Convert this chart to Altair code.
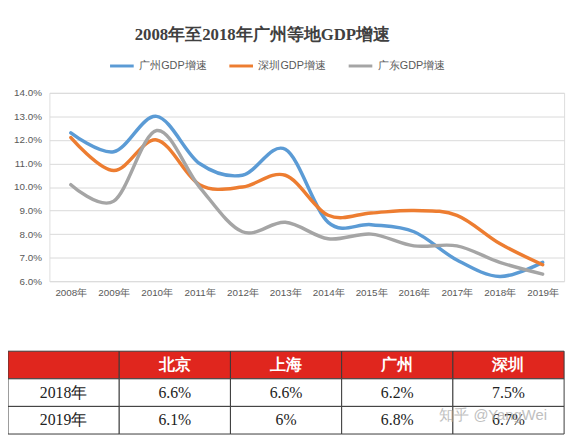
import altair as alt
import pandas as pd

# ---- data ----
years = ["2008年", "2009年", "2010年", "2011年", "2012年", "2013年",
         "2014年", "2015年", "2016年", "2017年", "2018年", "2019年"]
series_names = ["广州GDP增速", "深圳GDP增速", "广东GDP增速"]
guangzhou = [12.3, 11.5, 13.0, 11.0, 10.5, 11.6, 8.5, 8.4, 8.1, 6.9, 6.2, 6.8]
shenzhen = [12.1, 10.7, 12.0, 10.1, 10.0, 10.5, 8.8, 8.9, 9.0, 8.8, 7.6, 6.7]
guangdong = [10.1, 9.4, 12.4, 10.0, 8.1, 8.5, 7.8, 8.0, 7.5, 7.5, 6.8, 6.3]
series_colors = ["#5B9BD5", "#ED7D31", "#A5A5A5"]

table_header = ["", "北京", "上海", "广州", "深圳"]
row_labels = ["2018年", "2019年"]
vals_2018 = ["6.6%", "6.6%", "6.2%", "7.5%"]
vals_2019 = ["6.1%", "6%", "6.8%", "6.7%"]

title_text = "2008年至2018年广州等地GDP增速"
watermark = "知乎 @YangWei"

# ---- tables built from the lists ----
line_rows = []
for name, vals in zip(series_names, [guangzhou, shenzhen, guangdong]):
    for y, v in zip(years, vals):
        line_rows.append({"year": y, "series": name, "value": v})
line_df = pd.DataFrame(line_rows)

cells = []
for c, h in enumerate(table_header):
    cells.append({"col": c, "row": 0, "text": h, "kind": "header"})
for r, (lab, vals) in enumerate(zip(row_labels, [vals_2018, vals_2019])):
    cells.append({"col": 0, "row": r + 1, "text": lab, "kind": "body"})
    for c, v in enumerate(vals):
        cells.append({"col": c + 1, "row": r + 1, "text": v, "kind": "body"})
cell_df = pd.DataFrame(cells)

W, H = 522, 191

lines = alt.Chart(line_df).mark_line(
    interpolate="cardinal", strokeWidth=3.5, strokeCap="round"
).encode(
    x=alt.X("year:O", sort=years, title=None,
            scale=alt.Scale(type="point", padding=0.5),
            axis=alt.Axis(labelAngle=0, ticks=False, domain=False, grid=False,
                          labelFontSize=10, labelColor="#595959",
                          labelFont="Liberation Sans", labelPadding=7)),
    y=alt.Y("value:Q", title=None,
            scale=alt.Scale(domain=[6, 14], nice=False, zero=False),
            axis=alt.Axis(values=list(range(6, 15)), ticks=False, domain=False,
                          grid=True, gridColor="#d9d9d9", gridWidth=1,
                          labelExpr="format(datum.value, '.1f') + '%'",
                          labelFontSize=10, labelColor="#595959",
                          labelFont="Liberation Sans", labelPadding=8)),
    color=alt.Color("series:N", sort=series_names,
                    scale=alt.Scale(domain=series_names, range=series_colors),
                    legend=alt.Legend(title=None, orient="none", direction="horizontal",
                                      legendX=60, legendY=-41,
                                      symbolType="stroke", symbolStrokeWidth=3,
                                      symbolSize=576, labelFontSize=11,
                                      labelColor="#595959", labelFont="Liberation Sans",
                                      columnPadding=17, labelOffset=4, padding=0)),
)

tx = alt.X("col:O", axis=None,
           scale=alt.Scale(domain=[0, 1, 2, 3, 4], range=[-42, 522],
                           paddingInner=0, paddingOuter=0))
ty = alt.Y("row:O", axis=None,
           scale=alt.Scale(domain=[0, 1, 2], range=[262, 346],
                           paddingInner=0, paddingOuter=0))

rects = alt.Chart(cell_df).mark_rect(stroke="#3a3a3a", strokeWidth=1).encode(
    x=tx, y=ty,
    fill=alt.Fill("kind:N", scale=alt.Scale(domain=["header", "body"],
                                            range=["#E0261E", "#ffffff"]),
                  legend=None),
)

head_text = alt.Chart(cell_df).transform_filter(
    alt.datum.kind == "header"
).mark_text(color="white", fontWeight="bold", fontSize=16,
            font="Liberation Serif").encode(x=tx, y=ty, text="text:N")

body_text = alt.Chart(cell_df).transform_filter(
    alt.datum.kind == "body"
).mark_text(color="#222222", fontSize=16, font="Liberation Serif").encode(
    x=tx, y=ty, text="text:N")

wm = alt.Chart(pd.DataFrame({"t": [watermark]})).mark_text(
    color="#b0b0b0", fontSize=15, opacity=0.8, font="Liberation Sans"
).encode(x=alt.value(450), y=alt.value(327), text="t:N")

chart = alt.layer(lines, rects, head_text, body_text, wm).resolve_scale(
    x="independent", y="independent"
).properties(
    width=W, height=H,
    title=alt.TitleParams(title_text, fontSize=17, fontWeight="bold",
                          font="Liberation Serif", color="#404040",
                          anchor="middle", dx=-45, offset=9),
    autosize=alt.AutoSizeParams(type="none"),
    padding={"left": 42, "top": 83, "right": 7, "bottom": 158},
).configure_view(stroke=None).configure(background="white")

chart.save("out.html", embed_options={"renderer": "svg", "actions": False})
